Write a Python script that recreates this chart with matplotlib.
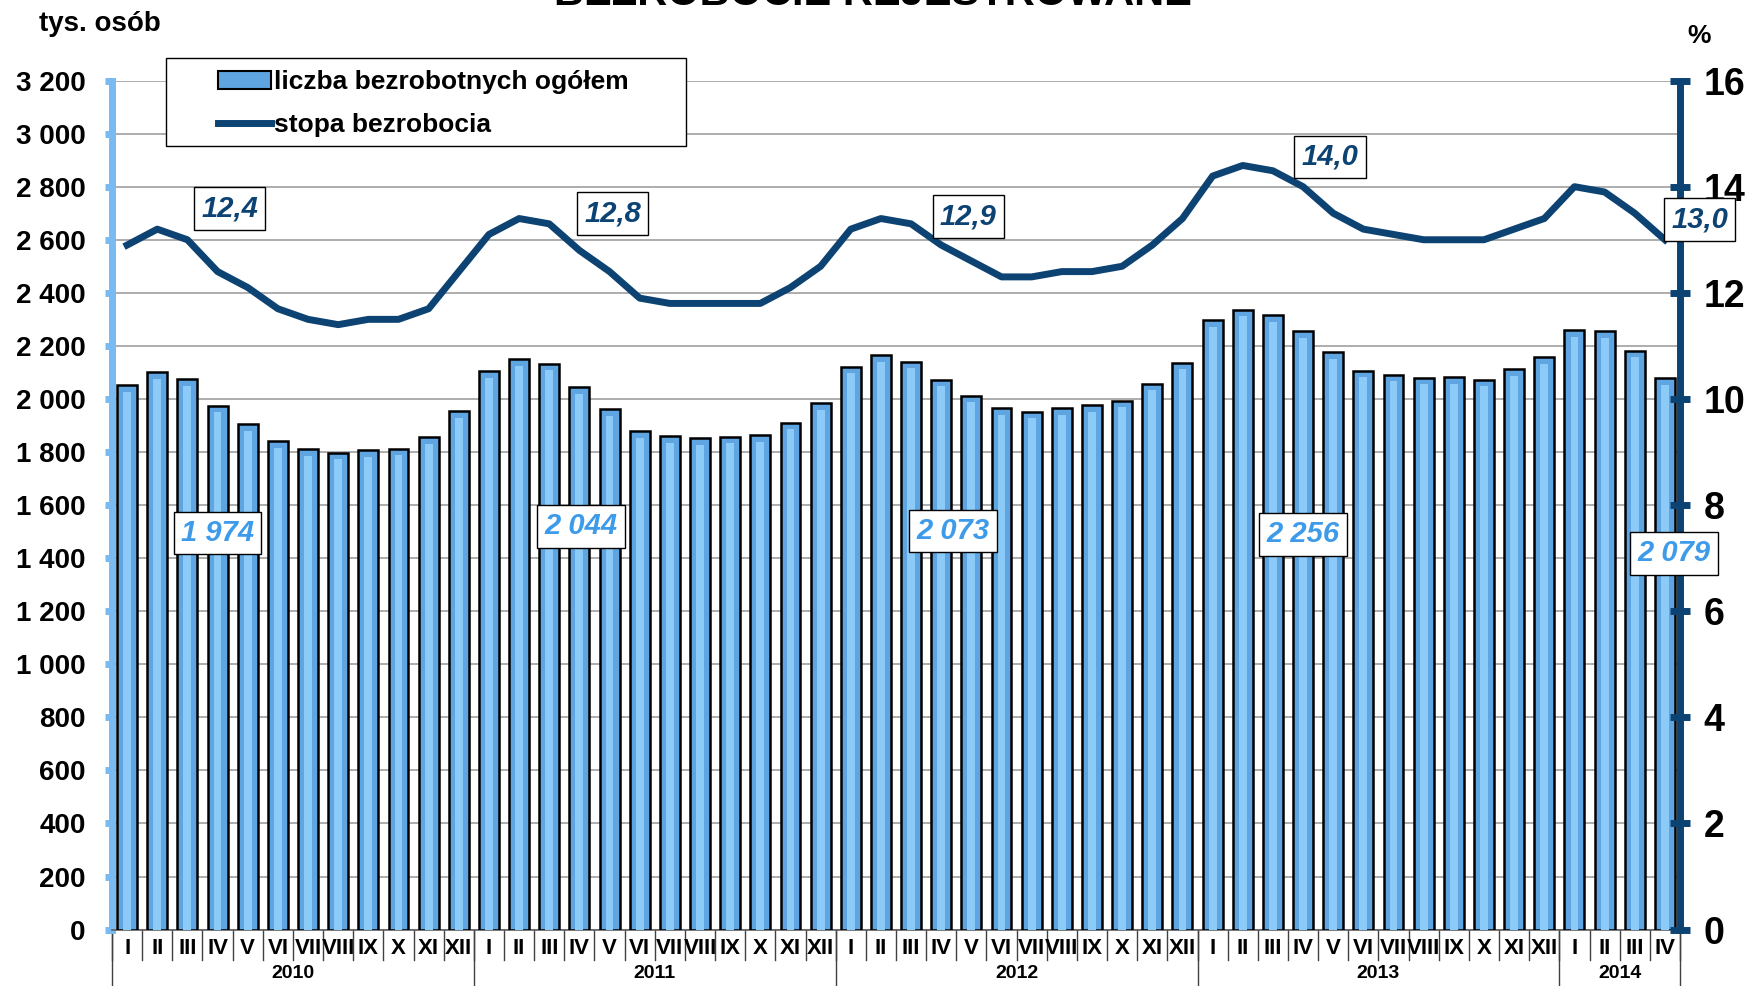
import matplotlib
matplotlib.use("Agg")
import matplotlib.pyplot as plt
from matplotlib.lines import Line2D
from matplotlib.patches import Patch, Rectangle
import numpy as np

plt.rcParams['font.family'] = ['Liberation Sans Narrow', 'Liberation Sans', 'DejaVu Sans']
plt.rcParams['font.weight'] = 'bold'

# data
months = ["I", "II", "III", "IV", "V", "VI", "VII", "VIII", "IX", "X", "XI", "XII"]
years = ["2010", "2011", "2012", "2013", "2014"]
months_in_year = [12, 12, 12, 12, 4]

unemployed = [
    2053, 2100, 2075, 1974, 1905, 1840, 1810, 1797, 1808, 1813, 1855, 1954,   # 2010
    2104, 2150, 2133, 2044, 1962, 1879, 1860, 1852, 1858, 1864, 1910, 1983,   # 2011
    2122, 2166, 2141, 2073, 2012, 1965, 1952, 1965, 1976, 1994, 2058, 2137,   # 2012
    2296, 2336, 2315, 2256, 2176, 2106, 2091, 2080, 2081, 2073, 2112, 2158,   # 2013
    2260, 2256, 2182, 2079,                                                   # 2014
]
rate = [
    12.9, 13.2, 13.0, 12.4, 12.1, 11.7, 11.5, 11.4, 11.5, 11.5, 11.7, 12.4,
    13.1, 13.4, 13.3, 12.8, 12.4, 11.9, 11.8, 11.8, 11.8, 11.8, 12.1, 12.5,
    13.2, 13.4, 13.3, 12.9, 12.6, 12.3, 12.3, 12.4, 12.4, 12.5, 12.9, 13.4,
    14.2, 14.4, 14.3, 14.0, 13.5, 13.2, 13.1, 13.0, 13.0, 13.0, 13.2, 13.4,
    14.0, 13.9, 13.5, 13.0,
]

navy = "#0C4373"
light_blue = "#79BAF0"
bar_blue = "#5FA5E2"
label_blue = "#3E9BEA"

fig = plt.figure(figsize=(17.56, 9.86), dpi=100)
ax = fig.add_axes([0.0638, 0.0572, 0.8929, 0.8611])
ax2 = ax.twinx()

x = np.arange(len(unemployed))
ax.bar(x, unemployed, width=0.66, color=bar_blue, edgecolor="black", linewidth=1.8, zorder=3)
ax.bar(x, np.array(unemployed) - 25, width=0.26, color="#8CCBF7", linewidth=0, zorder=4)
ax.set_xlim(-0.5, len(unemployed) - 0.5)
ax.set_ylim(0, 3200)
ax.set_yticks(np.arange(0, 3201, 200))
ax.set_yticklabels([f"{v:,}".replace(",", " ") for v in range(0, 3201, 200)], fontsize=20)
ax.yaxis.grid(True, color="#a0a0a0", linewidth=1.2, zorder=0)
ax.set_axisbelow(True)
ax.set_xticks([])

ax2.plot(x, rate, color=navy, linewidth=5, solid_joinstyle="round", zorder=5)
ax2.set_ylim(0, 16)
ax2.set_yticks(np.arange(0, 17, 2))
ax2.tick_params(axis="y", direction="inout", length=14, width=5, color=navy, labelsize=27, pad=10)

for s in ["top"]:
    ax.spines[s].set_visible(False)
    ax2.spines[s].set_visible(False)
ax.spines["right"].set_visible(False)
ax2.spines["left"].set_visible(False)
ax2.spines["bottom"].set_visible(False)
ax.spines["left"].set_color(light_blue)
ax.spines["left"].set_linewidth(5)
ax2.spines["right"].set_color(navy)
ax2.spines["right"].set_linewidth(5)
ax.spines["bottom"].set_color("#606060")
ax.spines["bottom"].set_linewidth(1.2)
ax.tick_params(axis="y", direction="out", length=5, width=5, color=light_blue, pad=14)

# category table under the axis
trans = ax.get_xaxis_transform()
i = 0
bounds = [-0.5]
for yr, n in zip(years, months_in_year):
    for m in months[:n]:
        ax.text(i, -0.022, m, transform=trans, ha="center", va="center", fontsize=16)
        i += 1
    ax.text((bounds[-1] + i - 0.5) / 2, -0.052, yr, transform=trans, ha="center", va="center", fontsize=14)
    bounds.append(i - 0.5)
for b in np.arange(-0.5, len(unemployed), 1.0):
    ax.add_line(Line2D([b, b], [0, -0.036], transform=trans, color="#404040", linewidth=1, clip_on=False))
for b in bounds:
    ax.add_line(Line2D([b, b], [0, -0.075], transform=trans, color="#404040", linewidth=1, clip_on=False))

# April labels (placed on the right axis so they sit above its spine)
april = [3, 15, 27, 39, 51]
rate_pos = [(3.4, 13.59), (16.1, 13.5), (27.9, 13.44), (39.9, 14.56), (52.15, 13.38)]
count_pos = [(3.0, 7.47), (15.06, 7.6), (27.4, 7.51), (39.0, 7.45), (51.3, 7.09)]
for k, idx in enumerate(april):
    ax2.text(*rate_pos[k], f"{rate[idx]:.1f}".replace(".", ","), ha="center", va="center",
             fontsize=21, style="italic", color=navy, zorder=10, clip_on=False,
             bbox=dict(boxstyle="square,pad=0.25", fc="white", ec="black", lw=1))
    ax2.text(*count_pos[k], f"{unemployed[idx]:,}".replace(",", " "), ha="center", va="center",
             fontsize=21, style="italic", color=label_blue, zorder=10, clip_on=False,
             bbox=dict(boxstyle="square,pad=0.25", fc="white", ec="black", lw=1))

# legend box drawn separately (wide horizontal padding)
fig.add_artist(Rectangle((0.0944, 0.8523), 0.2965, 0.0887, transform=fig.transFigure,
                         facecolor="white", edgecolor="black", linewidth=1, zorder=4))
handles = [Patch(facecolor=bar_blue, edgecolor="black", linewidth=1.5),
           Line2D([], [], color=navy, linewidth=5)]
leg = fig.legend(handles, ["liczba bezrobotnych ogółem", "stopa bezrobocia"],
                 loc="upper left", bbox_to_anchor=(0.1244, 0.929), fontsize=19, frameon=False,
                 handlelength=2.0, handletextpad=0.1, borderpad=0, labelspacing=0.72,
                 borderaxespad=0)
leg.set_zorder(6)

fig.text(0.022, 0.976, "tys. osób", fontsize=20, ha="left", va="center")
fig.text(0.961, 0.963, "%", fontsize=19, ha="left", va="center")
fig.text(0.497, 0.995, "BEZROBOCIE REJESTROWANE", fontsize=30, ha="center", va="baseline",
         family=["Liberation Sans", "DejaVu Sans"])

fig.savefig("out.png", dpi=100)
